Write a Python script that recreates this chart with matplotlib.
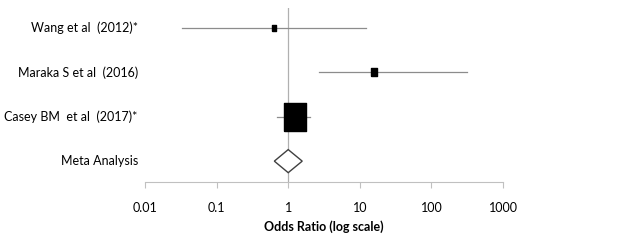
import matplotlib
matplotlib.use("Agg")
import matplotlib.pyplot as plt
import numpy as np

plt.rcParams['font.family'] = ['Lato', 'DejaVu Sans']

studies = ['Wang et al  (2012)*', 'Maraka S et al  (2016)', 'Casey BM  et al  (2017)*']
odds = [0.64, 15.9, 1.23]
lower = [0.033, 2.7, 0.70]
upper = [12.3, 316, 2.03]
msizes = [4, 5.5, 20]
meta_label = 'Meta Analysis'
meta_or = 1.0
meta_lo = 0.64
meta_hi = 1.57
ticks = [0.01, 0.1, 1, 10, 100, 1000]
tick_labels = ['0.01', '0.1', '1', '10', '100', '1000']

fig = plt.figure(figsize=(6.44, 2.52), dpi=100)
ax = fig.add_axes([145/644, 1-182/252, (503-145)/644, 174/252])

# slightly tall box marker
box = [(-0.82, -1), (0.82, -1), (0.82, 1), (-0.82, 1), (-0.82, -1)]

ypos = [4, 3, 2]
ax.axvline(1, color='#b0b0b0', lw=0.9, zorder=1)
for y, o, lo, hi, ms in zip(ypos, odds, lower, upper, msizes):
    ax.plot([lo, hi], [y, y], color='#8c8c8c', lw=0.9, zorder=2)
    ax.plot(o, y, marker=box, color='black', ms=ms, zorder=3, linestyle='none')

# meta diamond
ym = 1
dh = 0.26
ax.fill([meta_lo, meta_or, meta_hi, meta_or], [ym, ym+dh, ym, ym-dh],
        facecolor='white', edgecolor='#404040', lw=1.0, zorder=3)

ax.set_xscale('log')
ax.set_xlim(0.01, 1000)
ax.set_ylim(0.53, 4.45)
ax.set_xticks(ticks)
ax.set_xticklabels(tick_labels)
ax.minorticks_off()
ax.set_yticks([])
for s in ['top', 'right', 'left']:
    ax.spines[s].set_visible(False)
ax.spines['bottom'].set_color('#c0c0c0')
ax.tick_params(axis='x', colors='#c0c0c0', length=4.3, pad=10, labelsize=9, labelcolor='black')
ax.set_xlabel('Odds Ratio (log scale)', fontsize=9, fontweight='bold', labelpad=5)

for y, name in zip(ypos + [ym], studies + [meta_label]):
    ax.text(-0.02, y, name, transform=ax.get_yaxis_transform(), ha='right', va='center', fontsize=9)

fig.savefig('out.png', dpi=100)
